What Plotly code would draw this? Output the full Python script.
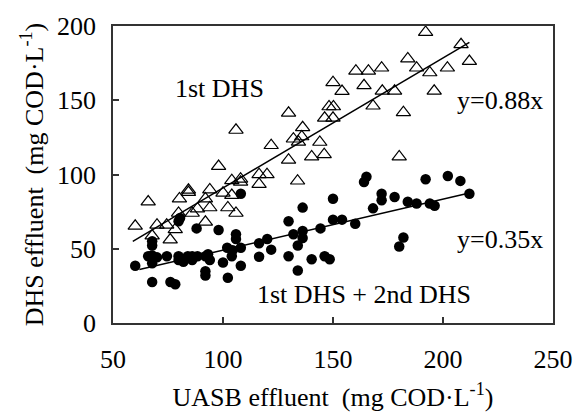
import plotly.graph_objects as go

# 1st DHS effluent (open triangles)
tri_x = [60.1, 66, 70, 67.8, 74.4, 76, 78.3, 79.8, 80.2, 84.3, 84.3, 86, 88.4, 92, 92, 94, 94,
         98, 100, 102.2, 104, 104, 105.9, 108, 108, 116.4, 116.4, 120, 129.8, 133.9, 140.3, 146,
         105.9, 121.9, 129.8, 132, 134.3, 135.8, 136.2, 144, 146.2, 148.2, 150.2, 150, 150, 154.1,
         192.1, 208.2, 212, 184, 188, 194, 202, 160.4, 166.1, 172.1, 164.1, 172.4, 178, 196,
         168.2, 182, 180.1]
tri_y = [65.3, 81.6, 66, 58.7, 66, 56, 63, 74, 83.7, 88, 89.5, 74, 77, 83.7, 68, 89.8, 77.7,
         105.5, 87.6, 77.7, 96, 86, 74, 95, 97, 93.5, 100, 100, 109.8, 95.7, 112, 113.5,
         129.9, 119.6, 141.4, 124, 121.9, 125.5, 131.6, 121.8, 138, 145.7, 145.7, 138, 162, 156,
         195.8, 187.5, 176.2, 178, 171.8, 168.6, 171.8, 169.7, 169.7, 171.8, 159.9, 156.2, 156.2, 156.2,
         146.2, 141.8, 112]

# 1st DHS + 2nd DHS effluent (filled circles)
cir_x = [60.1, 67.8, 76.1, 78.3, 66, 67.8, 67.8, 67.8, 70, 74.5, 79.8, 79.8, 82, 84, 86, 88.4,
         92, 94, 92, 92, 100, 102.2, 101.9, 104, 104.4, 105.9, 105.9, 108.1, 108.1, 108.1,
         79.8, 80.5, 88, 98, 116.4, 116.4, 120.1, 121.9, 129.8, 129.8, 132, 134, 134, 136.2,
         136.2, 136.2, 140.3, 144.3, 146.2, 148.5, 150, 150, 154.1, 165.2, 164.1, 192.1, 202.2,
         207.9, 172.1, 172.1, 178, 184, 188, 194, 196.2, 212, 168.2, 160.1, 182, 180.1,
         67.8, 86, 93.2]
cir_y = [38.5, 27.6, 27.6, 26.1, 45, 40.2, 52.2, 55, 44.2, 45, 45, 42.4, 41.3, 45, 42.4, 45,
         45, 42.4, 34.8, 32, 40.7, 30.5, 50.7, 45, 49, 59.8, 56.6, 50.7, 38.5, 87,
         68.5, 70.7, 63.7, 62.6, 53.7, 44.6, 56.6, 49.4, 68.5, 45, 59.8, 52.2, 35.4, 77.7,
         62, 57.2, 42.9, 63.7, 45, 42.9, 83.7, 69.6, 69.6, 98.5, 95, 96.8, 99,
         95.7, 87, 82.7, 84.8, 81.6, 80.5, 80.5, 79, 87, 77.2, 66.8, 57.6, 51.5,
         45.5, 45, 46.3]

# trend lines (end points)
tri_fit_x = [59, 212]
tri_fit_y = [55, 189]
cir_fit_x = [62, 212]
cir_fit_y = [36, 87.5]

x_ticks = [50, 100, 150, 200, 250]
y_ticks = [0, 50, 100, 150, 200]

FONT = "Liberation Serif, Times New Roman, serif"
FS = 26

fig = go.Figure()
fig.add_trace(go.Scatter(x=tri_x, y=tri_y, mode="markers",
                         marker=dict(symbol="triangle-up-open", size=12.5, color="black",
                                     line=dict(width=1.2, color="black")),
                         showlegend=False))
fig.add_trace(go.Scatter(x=cir_x, y=cir_y, mode="markers",
                         marker=dict(symbol="circle", size=10.5, color="black"),
                         showlegend=False))
fig.add_trace(go.Scatter(x=tri_fit_x, y=tri_fit_y, mode="lines",
                         line=dict(color="black", width=1.5), showlegend=False))
fig.add_trace(go.Scatter(x=cir_fit_x, y=cir_fit_y, mode="lines",
                         line=dict(color="black", width=1.5), showlegend=False))

ann_font = dict(family=FONT, size=FS, color="black")
fig.add_annotation(x=98.5, y=158, xref="x", yref="y", text="1st DHS", showarrow=False, font=ann_font)
fig.add_annotation(x=226, y=150, xref="x", yref="y", text="y=0.88x", showarrow=False, font=ann_font)
fig.add_annotation(x=226, y=56, xref="x", yref="y", text="y=0.35x", showarrow=False, font=ann_font)
fig.add_annotation(x=164, y=19, xref="x", yref="y", text="1st DHS + 2nd DHS", showarrow=False, font=ann_font)

axis_common = dict(showgrid=False, zeroline=False, showline=True, linecolor="#333333", linewidth=1.5,
                   mirror=True, ticks="inside", ticklen=6, tickwidth=1.5, tickcolor="#333333",
                   tickfont=dict(family=FONT, size=FS, color="black"))

fig.update_xaxes(range=[50, 250], tickvals=x_ticks, ticktext=[str(v) for v in x_ticks],
                 title=dict(text="UASB effluent  (mg COD·L<sup>-1</sup>)",
                            font=dict(family=FONT, size=FS, color="black")),
                 ticklabelstandoff=12, **axis_common)
fig.update_yaxes(range=[0, 200], tickvals=y_ticks, ticktext=[str(v) for v in y_ticks],
                 title=dict(text="DHS effluent  (mg COD·L<sup>-1</sup>)",
                            font=dict(family=FONT, size=FS, color="black"), standoff=6),
                 ticklabelstandoff=10, **axis_common)

fig.update_layout(width=585, height=419, margin=dict(l=113, r=25, t=18, b=100),
                  plot_bgcolor="white", paper_bgcolor="white")
# keep plot area as in reference: bottom edge at y≈325 (419-94); shift via domain
fig.update_layout(margin=dict(b=94))

fig.write_html("out.html")
